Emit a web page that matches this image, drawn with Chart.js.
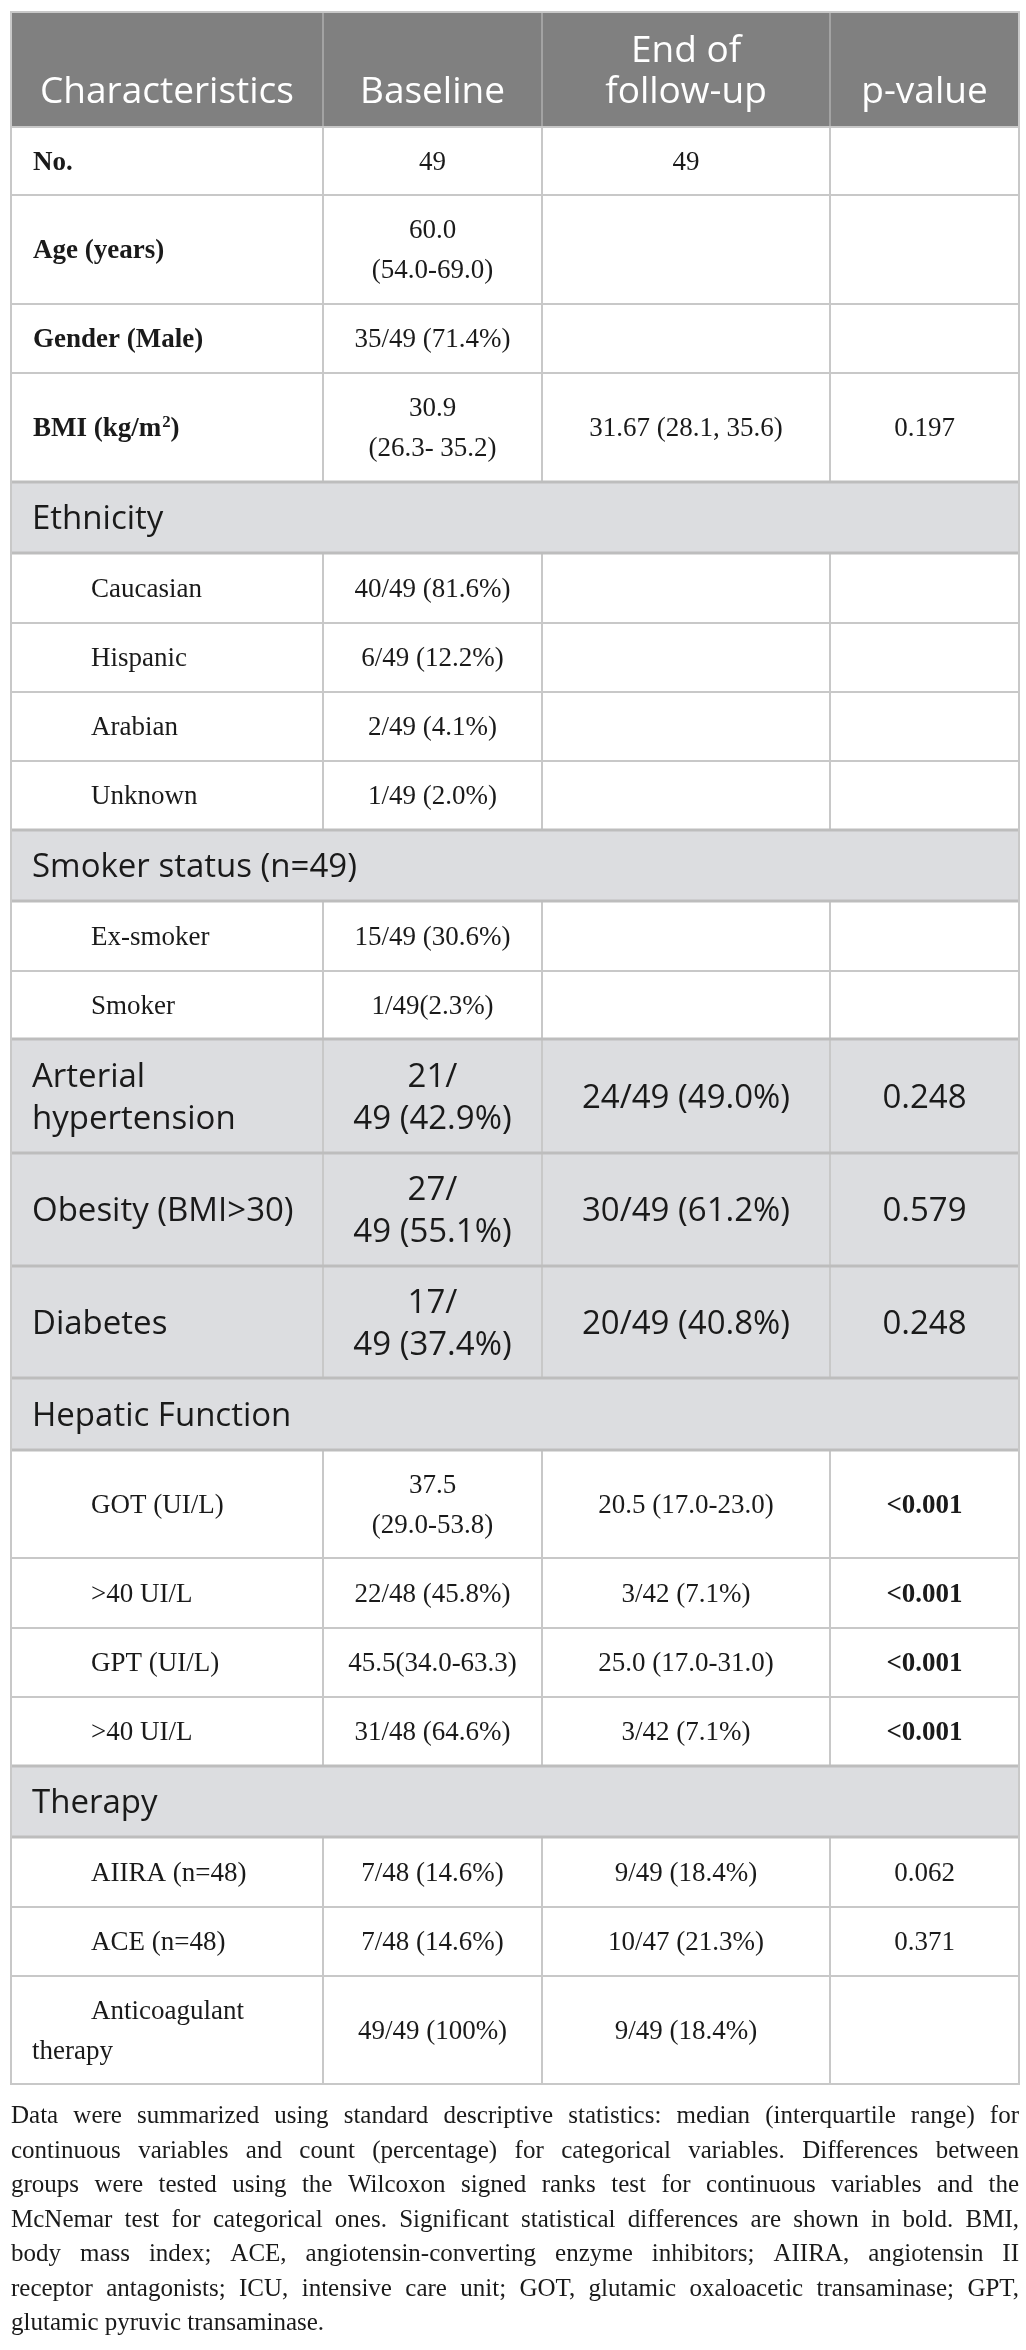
<!DOCTYPE html>
<html><head><meta charset="utf-8">
<script src="https://cdn.jsdelivr.net/npm/chart.js@4/dist/chart.umd.min.js"></script>
<style>html,body{margin:0;padding:0;background:#fff}#wrap{width:1026px;height:2350px}</style>
</head><body><div id="wrap"><canvas id="c" width="1026" height="2350"></canvas></div>
<script>
// ---------- DATA ----------
const columnHeaders = ['Characteristics', 'Baseline', 'End of\nfollow-up', 'p-value'];
const characteristics = ['No.', 'Age (years)', 'Gender (Male)', 'BMI (kg/m²)', 'Ethnicity', 'Caucasian', 'Hispanic', 'Arabian', 'Unknown',
  'Smoker status (n=49)', 'Ex-smoker', 'Smoker', 'Arterial\nhypertension', 'Obesity (BMI>30)', 'Diabetes', 'Hepatic Function',
  'GOT (UI/L)', '>40 UI/L', 'GPT (UI/L)', '>40 UI/L', 'Therapy', 'AIIRA (n=48)', 'ACE (n=48)', 'Anticoagulant\ntherapy'];
const baseline = ['49', '60.0\n(54.0-69.0)', '35/49 (71.4%)', '30.9\n(26.3- 35.2)', '', '40/49 (81.6%)', '6/49 (12.2%)', '2/49 (4.1%)', '1/49 (2.0%)',
  '', '15/49 (30.6%)', '1/49(2.3%)', '21/\n49 (42.9%)', '27/\n49 (55.1%)', '17/\n49 (37.4%)', '',
  '37.5\n(29.0-53.8)', '22/48 (45.8%)', '45.5(34.0-63.3)', '31/48 (64.6%)', '', '7/48 (14.6%)', '7/48 (14.6%)', '49/49 (100%)'];
const endOfFollowUp = ['49', '', '', '31.67 (28.1, 35.6)', '', '', '', '', '',
  '', '', '', '24/49 (49.0%)', '30/49 (61.2%)', '20/49 (40.8%)', '',
  '20.5 (17.0-23.0)', '3/42 (7.1%)', '25.0 (17.0-31.0)', '3/42 (7.1%)', '', '9/49 (18.4%)', '10/47 (21.3%)', '9/49 (18.4%)'];
const pValues = ['', '', '', '0.197', '', '', '', '', '',
  '', '', '', '0.248', '0.579', '0.248', '',
  '<0.001', '<0.001', '<0.001', '<0.001', '', '0.062', '0.371', ''];
const rowKinds = ['main', 'main', 'main', 'main', 'section', 'sub', 'sub', 'sub', 'sub',
  'section', 'sub', 'sub', 'highlight', 'highlight', 'highlight', 'section',
  'sub', 'sub', 'sub', 'sub', 'section', 'sub', 'sub', 'wrap'];
const footnoteLines = [
  'Data were summarized using standard descriptive statistics: median (interquartile range) for',
  'continuous variables and count (percentage) for categorical variables. Differences between',
  'groups were tested using the Wilcoxon signed ranks test for continuous variables and the',
  'McNemar test for categorical ones. Significant statistical differences are shown in bold. BMI,',
  'body mass index; ACE, angiotensin-converting enzyme inhibitors; AIIRA, angiotensin II',
  'receptor antagonists; ICU, intensive care unit; GOT, glutamic oxaloacetic transaminase; GPT,',
  'glutamic pyruvic transaminase.'
];

// ---------- LAYOUT ----------
const columnEdges = [11, 323, 542, 830, 1019];
const rowEdges = [12, 127, 195, 304, 373, 482, 553, 623, 692, 761, 830, 901, 971, 1039, 1153, 1266, 1378, 1450, 1558, 1628, 1697, 1766, 1837, 1907, 1976, 2084];
const footBaseline0 = 2123, footLineH = 34.5;

const SERIF = '"Liberation Serif", "Times New Roman", serif';
const SANS = '"Open Sans", "Noto Sans", sans-serif';
const F = {
  head: { size: 37, fam: SANS, w: '400', cap: 0.714, lh: 41 },
  sans: { size: 33, fam: SANS, w: '400', cap: 0.714, lh: 42 },
  serif: { size: 27, fam: SERIF, w: '400', cap: 0.66, lh: 40 },
  serifB: { size: 27, fam: SERIF, w: '700', cap: 0.66, lh: 40 },
  foot: { size: 25, fam: SERIF, w: '400', cap: 0.66, lh: 34.5 }
};

const tablePlugin = {
  id: 'tablePlugin',
  afterDraw(chart) {
    const ctx = chart.ctx;
    const sx = chart.scales.x, sy = chart.scales.y;
    const X = v => sx.getPixelForValue(v), Y = v => sy.getPixelForValue(v);
    const fontStr = (f, size) => `${f.w} ${size || f.size}px ${f.fam}`;
    const setF = f => { ctx.font = fontStr(f); };
    const L = columnEdges[0], R = columnEdges[columnEdges.length - 1];

    // draws a line of text, rendering '²' as a real raised superscript
    function fillRich(str, f, align, x, y) {
      if (!str.includes('²')) { ctx.textAlign = align; ctx.fillText(str, x, y); return; }
      const parts = str.split('²');
      ctx.font = fontStr(f);
      const w0 = ctx.measureText(parts[0]).width;
      ctx.font = fontStr(f, f.size * 0.62);
      const ws = ctx.measureText('2').width;
      ctx.font = fontStr(f);
      const w1 = ctx.measureText(parts[1]).width;
      const total = w0 + ws + w1;
      let sx0 = align === 'center' ? x - total / 2 : (align === 'right' ? x - total : x);
      ctx.textAlign = 'left';
      ctx.fillText(parts[0], sx0, y);
      ctx.font = fontStr(f, f.size * 0.62);
      ctx.fillText('2', sx0 + w0 + 1, y - f.size * 0.36);
      ctx.font = fontStr(f);
      ctx.fillText(parts[1], sx0 + w0 + ws + 1, y);
    }

    function drawLines(text, f, align, x, cy, color, firstX) {
      const lines = text.split('\n');
      setF(f);
      ctx.fillStyle = color;
      ctx.textBaseline = 'alphabetic';
      const capH = f.size * f.cap;
      lines.forEach((ln, i) => {
        const by = cy + (i - (lines.length - 1) / 2) * f.lh + capH / 2;
        const xx = (i === 0 && firstX !== undefined) ? firstX : x;
        fillRich(ln, f, align, X(xx), Y(by));
      });
    }

    ctx.save();
    // header background
    ctx.fillStyle = '#808080';
    ctx.fillRect(X(L), Y(rowEdges[0]), X(R) - X(L), Y(rowEdges[1]) - Y(rowEdges[0]));
    // row backgrounds
    rowKinds.forEach((k, i) => {
      const t = rowEdges[i + 1], b = rowEdges[i + 2];
      ctx.fillStyle = (k === 'section' || k === 'highlight') ? '#dcdde0' : '#ffffff';
      ctx.fillRect(X(L), Y(t), X(R) - X(L), Y(b) - Y(t));
    });
    // vertical dividers
    ctx.lineWidth = 2;
    for (let c = 1; c < columnEdges.length - 1; c++) {
      ctx.strokeStyle = '#a3a3a3';
      ctx.beginPath(); ctx.moveTo(X(columnEdges[c]), Y(rowEdges[0])); ctx.lineTo(X(columnEdges[c]), Y(rowEdges[1])); ctx.stroke();
      rowKinds.forEach((k, i) => {
        if (k === 'section') return;
        ctx.strokeStyle = '#c8c8c8';
        ctx.beginPath(); ctx.moveTo(X(columnEdges[c]), Y(rowEdges[i + 1])); ctx.lineTo(X(columnEdges[c]), Y(rowEdges[i + 2])); ctx.stroke();
      });
    }
    // horizontal lines
    rowEdges.forEach((e, i) => {
      const nearGray = (i >= 1) && (['section', 'highlight'].includes(rowKinds[i - 1]) || ['section', 'highlight'].includes(rowKinds[i - 2]));
      ctx.strokeStyle = nearGray ? '#bdbdbd' : '#c8c8c8';
      ctx.lineWidth = nearGray ? 3 : 2;
      ctx.beginPath(); ctx.moveTo(X(L - 1), Y(e)); ctx.lineTo(X(R + 1), Y(e)); ctx.stroke();
    });
    // outer verticals
    ctx.strokeStyle = '#c8c8c8'; ctx.lineWidth = 2;
    [L, R].forEach(x => { ctx.beginPath(); ctx.moveTo(X(x), Y(rowEdges[0])); ctx.lineTo(X(x), Y(rowEdges[rowEdges.length - 1])); ctx.stroke(); });

    // header text (bottom aligned)
    const hb = 103;
    columnHeaders.forEach((h, c) => {
      const lines = h.split('\n');
      setF(F.head); ctx.fillStyle = '#ffffff'; ctx.textAlign = 'center'; ctx.textBaseline = 'alphabetic';
      const cx = (columnEdges[c] + columnEdges[c + 1]) / 2;
      lines.forEach((ln, i) => {
        const by = hb - (lines.length - 1 - i) * F.head.lh;
        ctx.fillText(ln, X(cx), Y(by));
      });
    });

    // body
    const ink = '#1a1a1a';
    rowKinds.forEach((k, i) => {
      const t = rowEdges[i + 1], b = rowEdges[i + 2], cy = (t + b) / 2;
      const cx = c => (columnEdges[c] + columnEdges[c + 1]) / 2;
      if (k === 'section') {
        drawLines(characteristics[i], F.sans, 'left', 32, cy, ink);
        return;
      }
      if (k === 'highlight') {
        drawLines(characteristics[i], F.sans, 'left', 32, cy, ink);
        if (baseline[i]) drawLines(baseline[i], F.sans, 'center', cx(1), cy, ink);
        if (endOfFollowUp[i]) drawLines(endOfFollowUp[i], F.sans, 'center', cx(2), cy, ink);
        if (pValues[i]) drawLines(pValues[i], F.sans, 'center', cx(3), cy, ink);
        return;
      }
      if (k === 'main') drawLines(characteristics[i], F.serifB, 'left', 33, cy, ink);
      else if (k === 'sub') drawLines(characteristics[i], F.serif, 'left', 91, cy, ink);
      else drawLines(characteristics[i], F.serif, 'left', 32, cy, ink, 91);
      if (baseline[i]) drawLines(baseline[i], F.serif, 'center', cx(1), cy, ink);
      if (endOfFollowUp[i]) drawLines(endOfFollowUp[i], F.serif, 'center', cx(2), cy, ink);
      if (pValues[i]) {
        const sig = pValues[i].startsWith('<') || parseFloat(pValues[i]) < 0.05;
        drawLines(pValues[i], sig ? F.serifB : F.serif, 'center', cx(3), cy, ink);
      }
    });

    // footnote (justified)
    setF(F.foot); ctx.fillStyle = ink; ctx.textAlign = 'left'; ctx.textBaseline = 'alphabetic';
    footnoteLines.forEach((ln, i) => {
      const by = footBaseline0 + i * footLineH;
      const words = ln.split(' ');
      const last = i === footnoteLines.length - 1;
      const widths = words.map(w => ctx.measureText(w).width);
      const total = widths.reduce((a, b) => a + b, 0);
      const W = X(R) - X(L);
      let gap = last ? ctx.measureText(' ').width : (W - total) / (words.length - 1);
      let scale = 1;
      if (!last && gap < 3) { gap = 3; scale = W / (total + gap * (words.length - 1)); }
      ctx.save();
      ctx.translate(X(L), Y(by)); ctx.scale(scale, 1);
      let px = 0;
      words.forEach((w, j) => { ctx.fillText(w, px, 0); px += widths[j] + gap; });
      ctx.restore();
    });
    ctx.restore();
  }
};

function build() {
  new Chart(document.getElementById('c'), {
    type: 'scatter',
    data: { datasets: [{ data: [] }] },
    options: {
      responsive: false, animation: false, devicePixelRatio: 1,
      layout: { padding: 0 },
      plugins: { legend: { display: false }, tooltip: { enabled: false } },
      scales: {
        x: { type: 'linear', display: false, min: 0, max: 1026 },
        y: { type: 'linear', display: false, min: 0, max: 2350, reverse: true }
      }
    },
    plugins: [tablePlugin]
  });
}
const fl = document.fonts ? Promise.all([
  document.fonts.load('37px "Open Sans"'), document.fonts.load('27px "Liberation Serif"'), document.fonts.load('bold 27px "Liberation Serif"')
]).catch(() => {}) : Promise.resolve();
fl.then(build, build);
</script>
</body></html>
